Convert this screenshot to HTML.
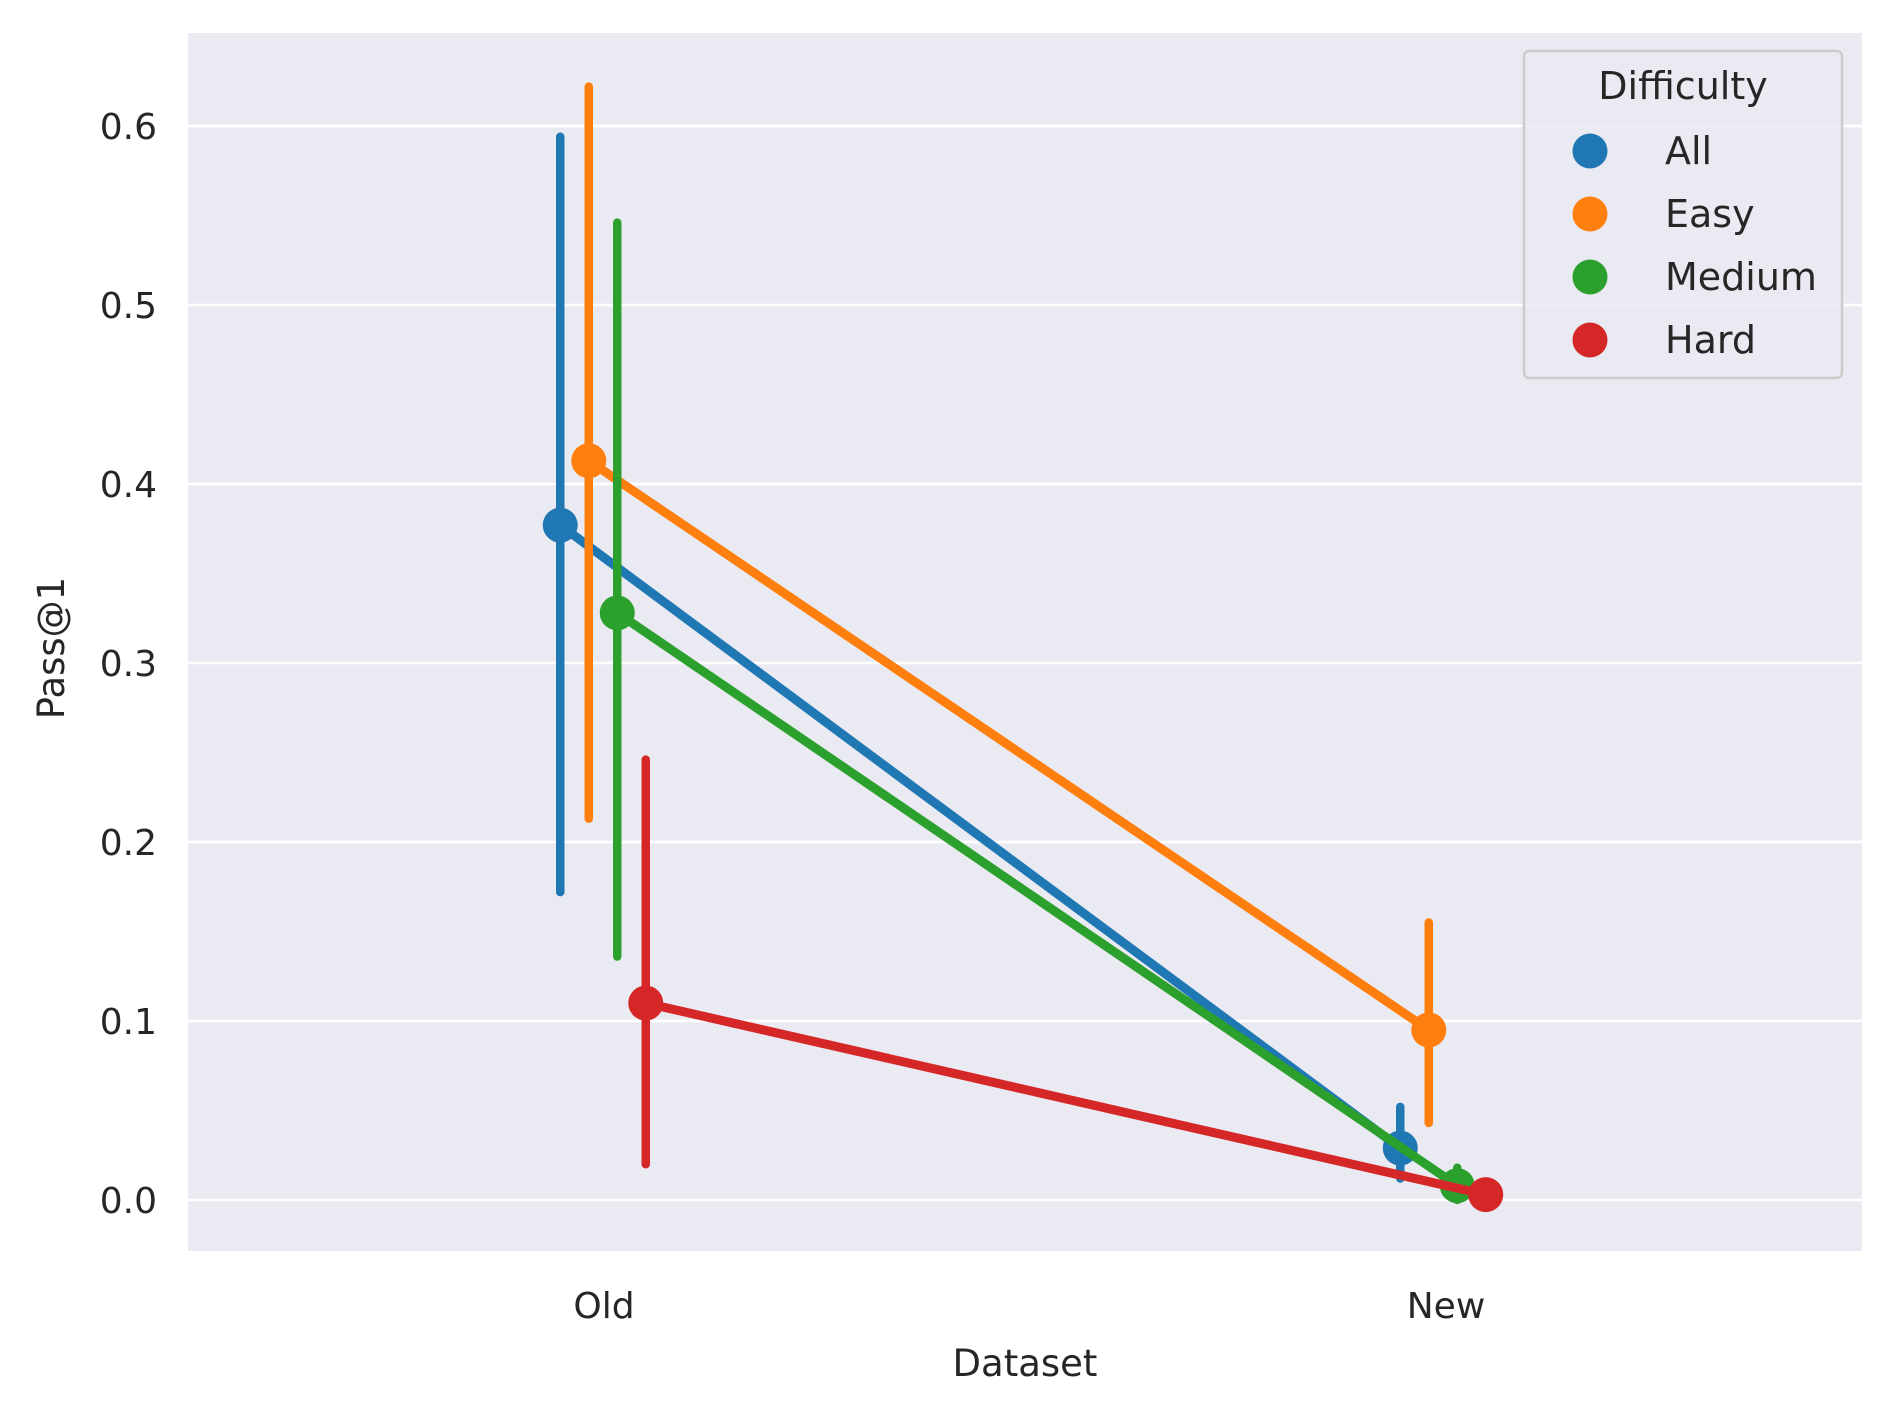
<!DOCTYPE html>
<html><head><meta charset="utf-8"><style>body{margin:0;background:#fff}svg{display:block;font-family:"DejaVu Sans","Liberation Sans",sans-serif;fill:#262626}</style></head>
<body>
<svg id="chart" width="1890" height="1410">
<rect x="188" y="33" width="1674" height="1218" fill="#eaeaf2"/>
<g id="grid"></g><g id="marks"></g><g id="ticks"></g>
<text x="1025" y="1376" font-size="37" text-anchor="middle">Dataset</text>
<text transform="translate(64,648) rotate(-90)" font-size="37" text-anchor="middle">Pass@1</text>
<g id="legend">
<rect x="1524" y="51" width="318" height="327" rx="5" fill="#eaeaf2" stroke="#cccccc" stroke-width="2.5" fill-opacity="0.8"/>
<text x="1683" y="99" font-size="38" text-anchor="middle">Difficulty</text>
</g>
</svg>
<script>
const categories=["Old","New"];
const series=["All","Easy","Medium","Hard"];
const colors=["#1f77b4","#ff7f0e","#2ca02c","#d62728"];
const meanOld=[0.377,0.413,0.328,0.110];
const meanNew=[0.029,0.095,0.008,0.003];
const loOld=[0.172,0.213,0.136,0.020];
const hiOld=[0.594,0.622,0.546,0.246];
const loNew=[0.012,0.043,0.000,0.000];
const hiNew=[0.052,0.155,0.018,0.006];
const yTicks=[0,0.1,0.2,0.3,0.4,0.5,0.6];
const NS="http://www.w3.org/2000/svg";
function y(v){return 1200-v*1790;}
function x(ci,si){return [603,1443][ci]+(si-1.5)*28.5;}
function mk(t,a,p){const e=document.createElementNS(NS,t);for(const k in a)e.setAttribute(k,a[k]);p.appendChild(e);return e;}
const grid=document.getElementById('grid'),ticks=document.getElementById('ticks'),marks=document.getElementById('marks'),leg=document.getElementById('legend');
yTicks.forEach(v=>{
const l=mk('line',{x1:188,x2:1862,y1:y(v),y2:y(v),stroke:'#fff','stroke-width':2.5},grid);


const t=mk('text',{x:157,y:y(v)+13,'font-size':36,'text-anchor':'end'},ticks);t.textContent=v.toFixed(1);


});
categories.forEach((c,i)=>{
const t=mk('text',{x:[604,1446][i],y:1318,'font-size':36,'text-anchor':'middle'},ticks);t.textContent=c;


});
series.forEach((s,i)=>{
const g=mk('g',{},marks);


const means=[meanOld[i],meanNew[i]],lo=[loOld[i],loNew[i]],hi=[hiOld[i],hiNew[i]];
const ln=mk('line',{x1:x(0,i),y1:y(means[0]),x2:x(1,i),y2:y(means[1]),stroke:colors[i],'stroke-width':9},g);


[0,1].forEach(c=>{
const e=mk('line',{x1:x(c,i),x2:x(c,i),y1:y(lo[c]),y2:y(hi[c]),stroke:colors[i],'stroke-width':8.5,'stroke-linecap':'round'},g);


const p=mk('circle',{cx:x(c,i),cy:y(means[c]),r:17.5,fill:colors[i]},g);


});
const ly=151+i*63;
const lc=mk('circle',{cx:1590,cy:ly,r:17.5,fill:colors[i]},leg);


const lt=mk('text',{x:1665,y:ly+13,'font-size':38},leg);lt.textContent=s;


});
</script>
</body></html>
